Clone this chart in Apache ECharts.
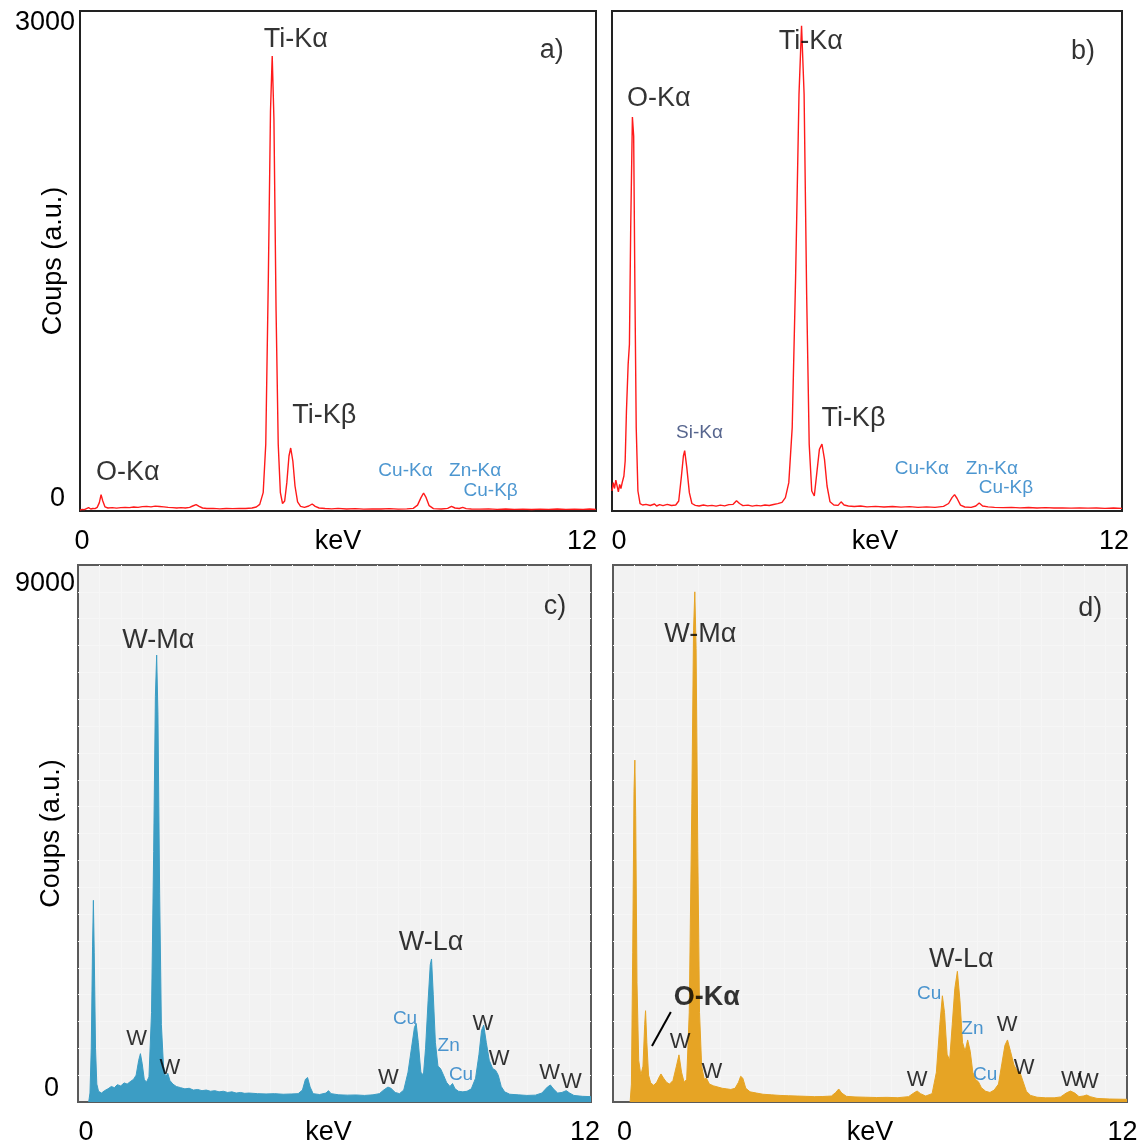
<!DOCTYPE html>
<html><head><meta charset="utf-8">
<script src="https://cdn.jsdelivr.net/npm/echarts@6.0.0/dist/echarts.min.js"></script>
<style>html,body{margin:0;padding:0;background:#fff}#c{width:1145px;height:1147px}</style>
</head><body><div id="c"></div><script>
// ---------- DATA ----------
const xTicks = [0, 12];
const yTicksTop = [0, 3000];
const yTicksBottom = [0, 9000];

// panel a: EDS spectrum (keV, counts)
const specA = [[0.00,5],[0.05,10],[0.10,8],[0.15,14],[0.20,20],[0.25,12],[0.30,15],[0.35,14],[0.40,22],[0.45,50],[0.49,98],[0.53,60],[0.58,25],[0.65,18],[0.75,20],[0.85,17],[0.95,20],[1.05,22],[1.15,20],[1.25,24],[1.35,22],[1.45,26],[1.55,28],[1.65,25],[1.75,29],[1.85,27],[1.95,25],[2.05,22],[2.15,20],[2.25,18],[2.35,20],[2.45,18],[2.55,22],[2.62,30],[2.70,38],[2.77,28],[2.85,18],[2.95,15],[3.10,16],[3.25,13],[3.40,15],[3.55,14],[3.70,16],[3.85,15],[4.00,18],[4.10,24],[4.18,40],[4.26,110],[4.32,400],[4.38,1400],[4.43,2400],[4.47,2730],[4.51,2350],[4.56,1200],[4.61,400],[4.66,110],[4.71,45],[4.76,60],[4.81,170],[4.86,330],[4.90,378],[4.95,300],[5.00,150],[5.06,55],[5.13,28],[5.22,22],[5.32,30],[5.40,42],[5.47,28],[5.56,18],[5.70,15],[5.85,13],[6.00,16],[6.20,12],[6.40,14],[6.60,11],[6.80,13],[7.00,12],[7.20,14],[7.40,11],[7.60,13],[7.75,16],[7.85,35],[7.93,80],[7.99,108],[8.05,80],[8.12,32],[8.22,14],[8.40,12],[8.55,16],[8.64,28],[8.72,18],[8.82,15],[8.90,22],[8.98,14],[9.10,12],[9.30,11],[9.50,13],[9.70,10],[9.90,12],[10.10,10],[10.30,11],[10.50,9],[10.70,11],[10.90,10],[11.10,12],[11.30,10],[11.50,11],[11.70,10],[11.85,12],[12.00,10]];

// panel b
const specB = [[0.00,120],[0.03,170],[0.06,135],[0.09,185],[0.12,150],[0.15,115],[0.18,160],[0.21,135],[0.24,170],[0.28,210],[0.31,300],[0.34,600],[0.38,880],[0.41,1000],[0.44,1700],[0.48,2364],[0.51,2250],[0.54,1300],[0.57,500],[0.61,120],[0.66,44],[0.72,36],[0.80,40],[0.90,33],[1.00,42],[1.05,30],[1.12,38],[1.20,32],[1.30,40],[1.40,33],[1.50,36],[1.57,60],[1.63,200],[1.68,330],[1.71,362],[1.76,260],[1.82,110],[1.88,45],[1.96,34],[2.05,30],[2.15,36],[2.25,31],[2.35,34],[2.45,29],[2.55,35],[2.65,31],[2.75,38],[2.85,40],[2.93,62],[3.00,45],[3.08,32],[3.20,35],[3.30,29],[3.40,34],[3.50,31],[3.60,36],[3.70,33],[3.80,39],[3.90,44],[4.00,52],[4.08,80],[4.16,170],[4.24,500],[4.32,1400],[4.40,2500],[4.46,2912],[4.52,2500],[4.58,1300],[4.64,400],[4.70,120],[4.76,90],[4.82,230],[4.88,370],[4.94,402],[5.00,310],[5.06,150],[5.13,55],[5.22,36],[5.32,34],[5.39,55],[5.46,36],[5.56,30],[5.70,27],[5.85,30],[6.00,25],[6.20,28],[6.40,24],[6.60,27],[6.80,23],[7.00,26],[7.20,22],[7.40,25],[7.60,22],[7.80,28],[7.92,45],[8.00,80],[8.06,98],[8.12,75],[8.20,35],[8.30,24],[8.45,22],[8.56,30],[8.64,48],[8.72,30],[8.85,25],[9.00,22],[9.20,20],[9.40,22],[9.60,19],[9.80,21],[10.00,18],[10.20,20],[10.40,18],[10.60,19],[10.80,17],[11.00,19],[11.20,17],[11.40,18],[11.60,16],[11.80,18],[12.00,16]];

// panel c
const specC = [[0.25,0],[0.28,150],[0.31,900],[0.34,2600],[0.36,3380],[0.38,2500],[0.41,900],[0.44,300],[0.48,180],[0.55,150],[0.62,190],[0.70,220],[0.78,260],[0.85,240],[0.92,290],[1.00,270],[1.08,320],[1.15,300],[1.22,340],[1.30,380],[1.36,450],[1.42,700],[1.46,810],[1.50,650],[1.55,380],[1.60,330],[1.66,420],[1.72,1500],[1.77,4200],[1.81,6800],[1.84,7490],[1.87,6500],[1.91,3500],[1.95,1300],[2.00,600],[2.05,420],[2.10,480],[2.15,360],[2.22,300],[2.30,260],[2.40,240],[2.50,220],[2.60,230],[2.70,200],[2.80,210],[2.90,190],[3.00,200],[3.10,180],[3.20,190],[3.30,170],[3.40,180],[3.50,160],[3.60,170],[3.70,150],[3.80,160],[3.90,145],[4.00,150],[4.20,140],[4.40,135],[4.60,140],[4.80,130],[5.00,135],[5.15,140],[5.25,200],[5.32,380],[5.37,410],[5.43,250],[5.50,140],[5.65,125],[5.80,150],[5.86,190],[5.92,140],[6.10,120],[6.30,115],[6.50,118],[6.70,110],[6.90,120],[7.05,140],[7.15,200],[7.25,250],[7.32,230],[7.42,160],[7.52,140],[7.62,200],[7.72,500],[7.80,900],[7.87,1250],[7.91,1316],[7.96,1000],[8.02,500],[8.08,450],[8.13,900],[8.19,1700],[8.24,2300],[8.27,2397],[8.31,1800],[8.36,1000],[8.42,600],[8.48,560],[8.55,450],[8.62,330],[8.70,260],[8.76,310],[8.82,220],[8.90,180],[9.00,170],[9.10,180],[9.20,220],[9.30,400],[9.38,800],[9.44,1200],[9.49,1290],[9.55,1000],[9.62,700],[9.70,560],[9.77,530],[9.83,450],[9.90,260],[9.98,170],[10.10,130],[10.30,120],[10.50,110],[10.70,115],[10.85,150],[10.98,250],[11.05,285],[11.12,220],[11.22,150],[11.32,160],[11.42,190],[11.50,150],[11.60,110],[11.80,95],[12.00,90]];

// panel d
const specD = [[0.40,0],[0.43,300],[0.46,2500],[0.49,5200],[0.51,5730],[0.53,4800],[0.56,2000],[0.60,700],[0.65,450],[0.70,600],[0.74,1300],[0.76,1530],[0.79,1000],[0.83,450],[0.88,320],[0.95,280],[1.02,330],[1.08,420],[1.12,470],[1.18,400],[1.25,330],[1.32,300],[1.40,360],[1.48,600],[1.54,790],[1.60,500],[1.66,330],[1.72,380],[1.78,1500],[1.84,5000],[1.88,7900],[1.91,8550],[1.94,7600],[1.98,4200],[2.02,1500],[2.07,600],[2.13,380],[2.18,400],[2.25,300],[2.35,270],[2.45,250],[2.55,230],[2.65,220],[2.75,210],[2.85,230],[2.93,330],[2.98,430],[3.03,400],[3.10,230],[3.20,170],[3.35,150],[3.50,130],[3.70,120],[3.90,110],[4.10,105],[4.30,100],[4.50,95],[4.70,90],[4.90,92],[5.10,100],[5.20,160],[5.27,218],[5.34,150],[5.45,95],[5.65,85],[5.90,80],[6.15,75],[6.40,78],[6.65,72],[6.90,90],[7.02,150],[7.10,184],[7.18,140],[7.30,100],[7.45,140],[7.55,500],[7.63,1300],[7.69,1780],[7.74,1500],[7.80,800],[7.86,700],[7.92,1300],[7.98,1900],[8.04,2190],[8.10,1700],[8.16,1000],[8.22,850],[8.28,1040],[8.34,850],[8.40,500],[8.46,380],[8.53,340],[8.60,240],[8.70,180],[8.80,160],[8.90,200],[9.00,300],[9.08,650],[9.15,950],[9.21,1040],[9.28,850],[9.36,620],[9.44,520],[9.50,500],[9.57,350],[9.65,180],[9.75,110],[9.90,80],[10.10,70],[10.30,70],[10.45,85],[10.58,150],[10.68,184],[10.78,150],[10.88,90],[10.98,100],[11.06,117],[11.14,90],[11.30,60],[11.60,50],[12.00,45]];

// annotations: [text, keV, counts, kind]
const annA = [['Ti-Kα',5.02,2830,'big'],['Ti-Kβ',5.68,570,'big'],['O-Kα',1.11,228,'big'],['Cu-Kα',7.57,242,'blue'],['Zn-Kα',9.19,242,'blue'],['Cu-Kβ',9.55,120,'blue'],['a)',10.97,2765,'big']];
const annB = [['O-Kα',1.10,2476,'big'],['Ti-Kα',4.68,2819,'big'],['b)',11.08,2755,'big'],['Si-Kα',2.06,469,'navy'],['Ti-Kβ',5.68,554,'big'],['Cu-Kα',7.29,252,'blue'],['Zn-Kα',8.94,252,'blue'],['Cu-Kβ',9.27,141,'blue']];
const annC = [['c)',11.16,8300,'big'],['W-Mα',1.88,7742,'big'],['W-Lα',8.26,2665,'big'],['Cu',7.65,1390,'blue'],['Zn',8.67,938,'blue'],['Cu',8.96,452,'blue'],['W',1.37,1064,'w'],['W',2.15,570,'w'],['W',7.26,405,'w'],['W',9.47,1316,'w'],['W',9.85,720,'w'],['W',11.03,486,'w'],['W',11.54,344,'w']];
const annD = [['d)',11.14,8269,'big'],['W-Mα',2.04,7830,'big'],['O-Kα',2.19,1753,'bold'],['W',1.57,1005,'w'],['W',2.31,503,'w'],['W-Lα',8.13,2380,'big'],['Cu',7.38,1817,'blue'],['Zn',8.39,1223,'blue'],['Cu',8.69,452,'blue'],['W',9.20,1284,'w'],['W',9.60,577,'w'],['W',7.10,369,'w'],['W',10.70,375,'w'],['W',11.10,344,'w']];
const slashD = [[0.91,938],[1.35,1508]];

// ---------- STYLE / LAYOUT ----------
const FF = "'Liberation Sans', Arial, Helvetica, sans-serif";
const INK = '#000';
const kinds = {
  big:  {fontSize:27, color:INK},
  bold: {fontSize:27, color:INK, fontWeight:'bold'},
  blue: {fontSize:19, color:'#1f7cc4'},
  navy: {fontSize:19, color:'#2c3f72'},
  w:    {fontSize:22, color:INK}
};
const gBase = {show:true, borderWidth:2, outerBoundsMode:'none', containLabel:false};
const grids = [
  Object.assign({left:80, top:11, width:516, height:500, borderColor:'#222', backgroundColor:'#fff'}, gBase),
  Object.assign({left:612, top:11, width:510, height:500, borderColor:'#222', backgroundColor:'#fff'}, gBase),
  Object.assign({left:78, top:565, width:513, height:537, borderColor:'#5a5a5a', backgroundColor:'#f2f2f2'}, gBase),
  Object.assign({left:613, top:565, width:514, height:537, borderColor:'#5a5a5a', backgroundColor:'#f2f2f2'}, gBase)
];
const xPads = [[4,28],[14,16],[16,12],[23,9]];
const namePads = [[0,0,0,0],[0,0,0,16],[0,12,0,0],[0,0,0,0]];

function xAx(i){
  const [pl, pr] = xPads[i];
  const grey = i >= 2;
  return {
    gridIndex:i, type:'value', min:xTicks[0], max:xTicks[1], interval:xTicks[1]-xTicks[0],
    name:'keV', nameLocation:'middle', nameGap:17, nameMoveOverlap:false,
    nameTextStyle:{fontSize:27, color:INK, fontFamily:FF, padding:namePads[i]},
    axisLine:{show:false}, axisTick:{show:false},
    splitLine:{show:false},
    minorTick:{show:false, splitNumber:24},
    minorSplitLine:{show:grey, lineStyle:{color:'#f6f6f6', width:1}},
    axisLabel:{
      margin:17, fontSize:27, color:INK, fontFamily:FF,
      formatter: v => v === xTicks[0] ? '{l|' + v + '}' : '{r|' + v + '}',
      rich:{
        l:{fontSize:27, color:INK, fontFamily:FF, padding:[0,0,0,pl]},
        r:{fontSize:27, color:INK, fontFamily:FF, padding:[0,pr,0,0]}
      }
    }
  };
}
function yAx(i, ticks, showLabels, pads){
  const grey = i >= 2;
  return {
    gridIndex:i, type:'value', min:ticks[0], max:ticks[1], interval:ticks[1]-ticks[0],
    name: showLabels ? 'Coups (a.u.)' : '', nameLocation:'middle', nameGap:13, nameRotate:90,
    nameMoveOverlap:false,
    nameTextStyle:{fontSize:27, color:INK, fontFamily:FF},
    axisLine:{show:false}, axisTick:{show:false},
    splitLine:{show:false},
    minorTick:{show:false, splitNumber:20},
    minorSplitLine:{show:grey, lineStyle:{color:'#f6f6f6', width:1}},
    axisLabel:{
      show:showLabels, margin:pads ? pads.margin : 4, fontFamily:FF, fontSize:27, color:INK,
      formatter: v => v === ticks[0] ? '{z|' + v + '}' : '{m|' + v + '}',
      rich: pads ? {
        z:{fontSize:27, color:INK, fontFamily:FF, padding:pads.zero},
        m:{fontSize:27, color:INK, fontFamily:FF, padding:pads.max}
      } : {}
    }
  };
}

function annSeries(i, arr){
  return {
    type:'scatter', xAxisIndex:i, yAxisIndex:i, symbolSize:0, silent:true, z:10,
    data: arr.map(a => ({
      name:a[0], value:[a[1], a[2]],
      label:Object.assign({show:true, position:'inside', formatter:'{b}', fontFamily:FF}, kinds[a[3]])
    }))
  };
}

const option = {
  animation:false,
  backgroundColor:'#fff',
  grid:grids,
  xAxis:[xAx(0), xAx(1), xAx(2), xAx(3)],
  yAxis:[
    yAx(0, yTicksTop, true, {margin:5, zero:[0,10,24,0], max:[24,0,0,0]}),
    yAx(1, yTicksTop, false, null),
    yAx(2, yTicksBottom, true, {margin:3, zero:[0,16,26,0], max:[38,0,0,0]}),
    yAx(3, yTicksBottom, false, null)
  ],
  series:[
    {type:'line', xAxisIndex:0, yAxisIndex:0, data:specA, showSymbol:false, symbol:'none',
      lineStyle:{color:'#ff1a1a', width:1.4}, z:3},
    {type:'line', xAxisIndex:1, yAxisIndex:1, data:specB, showSymbol:false, symbol:'none',
      lineStyle:{color:'#ff1a1a', width:1.4}, z:3},
    {type:'line', xAxisIndex:2, yAxisIndex:2, data:specC, showSymbol:false, symbol:'none',
      lineStyle:{color:'#3c9dc4', width:1}, areaStyle:{color:'#3c9dc4', opacity:1}, z:3},
    {type:'line', xAxisIndex:3, yAxisIndex:3, data:specD, showSymbol:false, symbol:'none',
      lineStyle:{color:'#e6a425', width:1}, areaStyle:{color:'#e6a425', opacity:1}, z:3},
    {type:'line', xAxisIndex:3, yAxisIndex:3, data:slashD, showSymbol:false, symbol:'none',
      lineStyle:{color:INK, width:2}, z:6},
    annSeries(0, annA), annSeries(1, annB), annSeries(2, annC), annSeries(3, annD)
  ]
};
const chart = echarts.init(document.getElementById('c'), null, {renderer:'canvas'});
chart.setOption(option);
</script></body></html>
